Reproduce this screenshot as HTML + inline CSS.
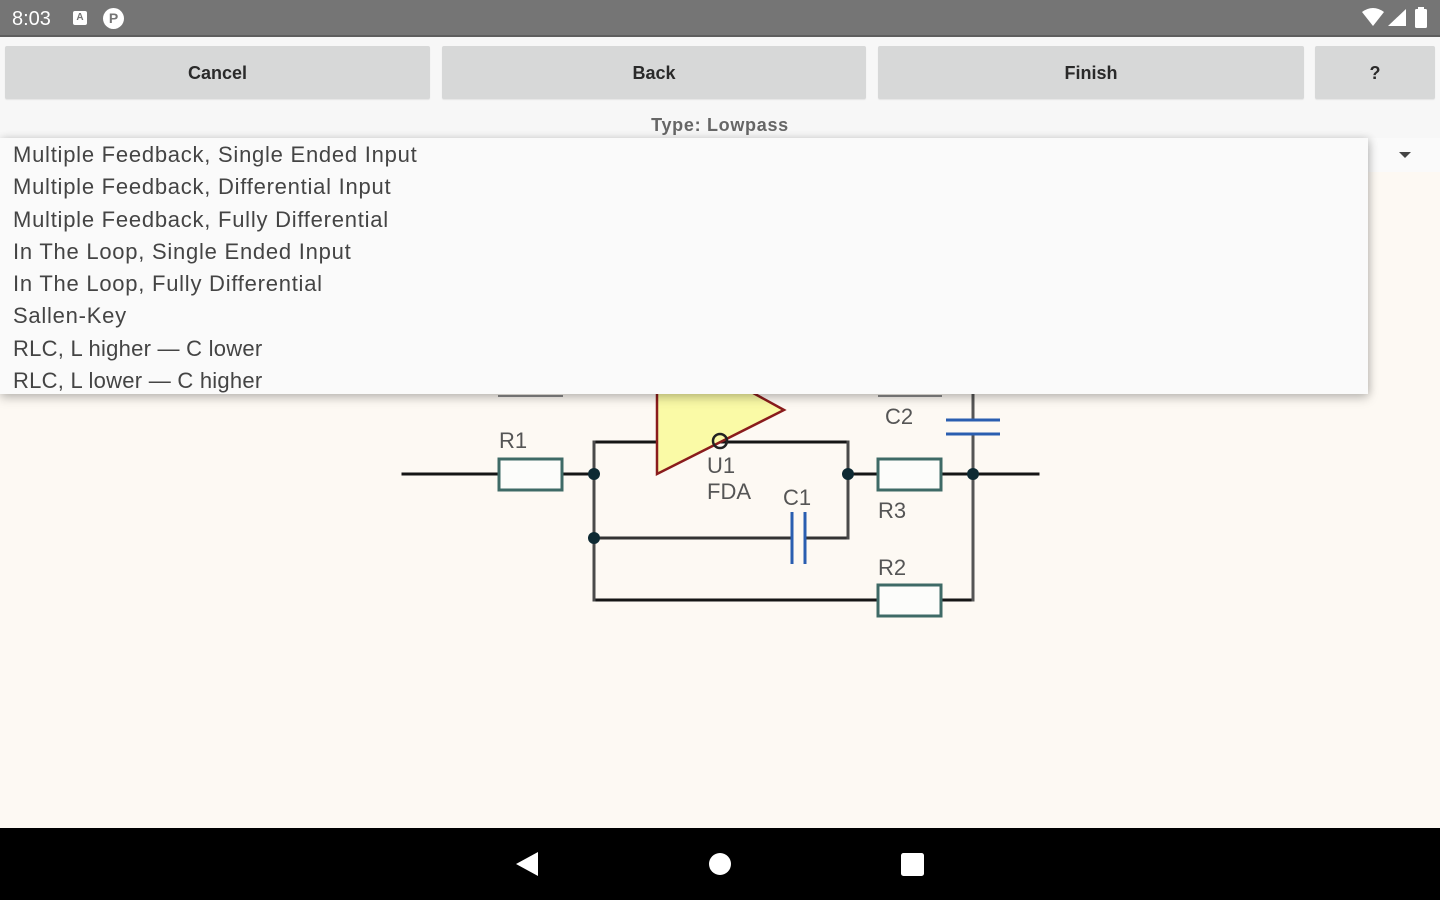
<!DOCTYPE html>
<html><head><meta charset="utf-8"><style>
*{margin:0;padding:0;box-sizing:border-box}
html,body{width:1440px;height:900px;overflow:hidden;background:#f7f7f7;font-family:"Liberation Sans",Arial,sans-serif}
.status{position:absolute;left:0;top:0;width:1440px;height:37px;background:#757575;border-bottom:2px solid #5e5e5e}
.time{position:absolute;left:12px;top:8px;color:#fff;font-size:20px;letter-spacing:0px}
.btn{position:absolute;top:46px;height:53px;background:#d7d8d8;border-radius:2px;color:#2a2a2a;font-weight:bold;font-size:18px;text-align:center;line-height:54px;box-shadow:0 1px 1px rgba(0,0,0,0.08)}
.type{position:absolute;left:0;width:1440px;top:115px;text-align:center;font-size:18px;font-weight:bold;color:#666;letter-spacing:0.7px}
.canvas{position:absolute;left:0;top:172px;width:1440px;height:656px;background:#fdf9f3}
.row{position:absolute;left:0;top:138px;width:1440px;height:36px;background:#fafafa}
.arrow{position:absolute;left:1399px;top:152px;width:0;height:0;border-left:6px solid transparent;border-right:6px solid transparent;border-top:6px solid #444}
.popup{position:absolute;left:0;top:138px;width:1368px;height:256px;background:#fafafa;box-shadow:0 4px 10px rgba(0,0,0,0.22),2px 0 8px rgba(0,0,0,0.12);z-index:5}
.popup div{height:32.3px;line-height:33px;padding-left:13px;font-size:22px;color:#444;white-space:nowrap;letter-spacing:0.75px}
.popup div.r{letter-spacing:0.25px}
.nav{position:absolute;left:0;top:828px;width:1440px;height:72px;background:#000}
svg{position:absolute;left:0;top:0}
</style></head><body>
<div class="status">
  <div class="time">8:03</div>
  <div style="position:absolute;left:73px;top:11px;width:14px;height:14px;background:#fff;border-radius:2px;font-size:10px;line-height:14px;text-align:center;color:#757575;font-weight:bold">A</div>
  <div style="position:absolute;left:103px;top:8px;width:21px;height:21px;background:#fff;border-radius:50%;font-size:14px;line-height:21px;text-align:center;color:#757575;font-weight:bold">P</div>
  <svg width="1440" height="37" style="left:0;top:0">
    <path d="M1362 12 Q1373 4 1384 12 L1373 26 Z" fill="#fff"/>
    <path d="M1388 26 L1406 9 L1406 26 Z" fill="#fff"/>
    <rect x="1415" y="9" width="12" height="19" rx="1.5" fill="#fff"/>
    <rect x="1418" y="7" width="6" height="3" fill="#fff"/>
  </svg>
</div>
<div class="btn" style="left:5px;width:425px">Cancel</div>
<div class="btn" style="left:442px;width:424px">Back</div>
<div class="btn" style="left:878px;width:426px">Finish</div>
<div class="btn" style="left:1315px;width:120px">?</div>
<div class="type">Type: Lowpass</div>
<div class="row"></div>
<div class="arrow"></div>
<div class="canvas"></div>
<svg width="1440" height="900">
  <line x1="498" y1="396" x2="563" y2="396" stroke="#8a8a8a" stroke-width="2"/>
  <line x1="878" y1="396" x2="942" y2="396" stroke="#8a8a8a" stroke-width="2"/>
  <g stroke-linecap="square">
    <line x1="403" y1="474" x2="498" y2="474" stroke="#151515" stroke-width="3"/>
    <line x1="562" y1="474" x2="594" y2="474" stroke="#151515" stroke-width="3"/>
    <line x1="594" y1="442" x2="848" y2="442" stroke="#151515" stroke-width="3"/>
    <line x1="848" y1="474" x2="878" y2="474" stroke="#151515" stroke-width="3"/>
    <line x1="941" y1="474" x2="1038" y2="474" stroke="#151515" stroke-width="3"/>
    <line x1="594" y1="538" x2="792" y2="538" stroke="#333" stroke-width="3"/>
    <line x1="805" y1="538" x2="848" y2="538" stroke="#333" stroke-width="3"/>
    <line x1="594" y1="600" x2="878" y2="600" stroke="#151515" stroke-width="3"/>
    <line x1="941" y1="600" x2="973" y2="600" stroke="#151515" stroke-width="3"/>
    <line x1="594" y1="442" x2="594" y2="600" stroke="#4a4a4a" stroke-width="3"/>
    <line x1="848" y1="442" x2="848" y2="538" stroke="#4a4a4a" stroke-width="3"/>
    <line x1="973" y1="380" x2="973" y2="420" stroke="#555" stroke-width="3"/>
    <line x1="973" y1="434" x2="973" y2="600" stroke="#555" stroke-width="3"/>
  </g>
  <polygon points="657,340 784,410 657,474" fill="#fafaa6" stroke="#8a1c1c" stroke-width="2.5"/>
  <circle cx="720" cy="441" r="7" fill="none" stroke="#222" stroke-width="2.5"/>
  <rect x="499" y="459" width="63" height="31" fill="#fcfcfa" stroke="#3e6a66" stroke-width="3"/>
  <rect x="878" y="459" width="63" height="31" fill="#fcfcfa" stroke="#3e6a66" stroke-width="3"/>
  <rect x="878" y="585" width="63" height="31" fill="#fcfcfa" stroke="#3e6a66" stroke-width="3"/>
  <line x1="792" y1="512" x2="792" y2="564" stroke="#2a5eb0" stroke-width="3"/>
  <line x1="805" y1="512" x2="805" y2="564" stroke="#2a5eb0" stroke-width="3"/>
  <line x1="946" y1="420" x2="1000" y2="420" stroke="#2a5eb0" stroke-width="3"/>
  <line x1="946" y1="434" x2="1000" y2="434" stroke="#2a5eb0" stroke-width="3"/>
  <circle cx="594" cy="474" r="6" fill="#0e2a33"/>
  <circle cx="594" cy="538" r="6" fill="#0e2a33"/>
  <circle cx="848" cy="474" r="6" fill="#0e2a33"/>
  <circle cx="973" cy="474" r="6" fill="#0e2a33"/>
  <g font-family="Liberation Sans, Arial, sans-serif" font-size="22" fill="#555">
    <text x="499" y="448">R1</text>
    <text x="707" y="473">U1</text>
    <text x="707" y="499">FDA</text>
    <text x="783" y="505">C1</text>
    <text x="885" y="424">C2</text>
    <text x="878" y="518">R3</text>
    <text x="878" y="575">R2</text>
  </g>
</svg>
<div class="popup">
  <div>Multiple Feedback, Single Ended Input</div>
  <div>Multiple Feedback, Differential Input</div>
  <div>Multiple Feedback, Fully Differential</div>
  <div>In The Loop, Single Ended Input</div>
  <div>In The Loop, Fully Differential</div>
  <div>Sallen-Key</div>
  <div class="r">RLC, L higher — C lower</div>
  <div class="r">RLC, L lower — C higher</div>
</div>
<div class="nav">
  <svg width="1440" height="72" style="left:0;top:0">
    <polygon points="516,36 538,24 538,48" fill="#fff"/>
    <circle cx="720" cy="36" r="11" fill="#fff"/>
    <rect x="901" y="25" width="23" height="23" rx="2.5" fill="#fff"/>
  </svg>
</div>
</body></html>
